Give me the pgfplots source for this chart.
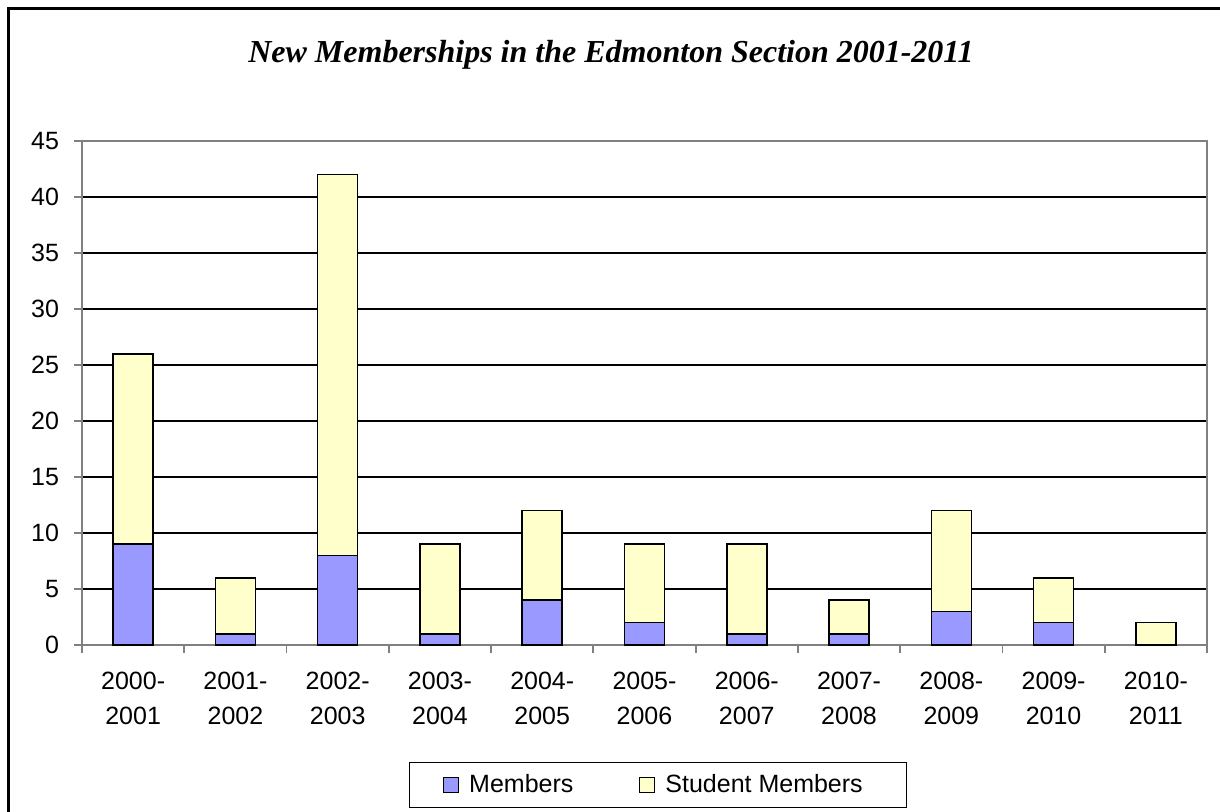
\documentclass[border=0pt]{standalone}
\usepackage{pgfplots}
\pgfplotsset{compat=1.18}
\usepackage{fontspec}
\setmainfont{Liberation Sans}
\newfontfamily\titlefont{Liberation Serif}
\definecolor{memb}{HTML}{9999FF}
\definecolor{stud}{HTML}{FFFFCC}
\definecolor{axgray}{HTML}{808080}
\begin{document}
\begin{tikzpicture}
\useasboundingbox (0,0) rectangle (610pt,-406pt);
\draw[line width=1.3pt] (4.3pt,-420pt) -- (4.3pt,-4.3pt) -- (620pt,-4.3pt);
\node[font=\titlefont\bfseries\itshape\fontsize{16}{19}\selectfont] at (305.5pt,-27.5pt) {New Memberships in the Edmonton Section 2001-2011};
\begin{axis}[
  at={(41pt,-322.5pt)}, anchor=south west,
  width=562.5pt, height=252pt, scale only axis,
  ybar stacked, bar width=20pt,
  xmin=-0.5, xmax=10.5, ymin=0, ymax=45,
  xtick={0,...,10},
  xticklabels={{2000-\\2001},{2001-\\2002},{2002-\\2003},{2003-\\2004},{2004-\\2005},{2005-\\2006},{2006-\\2007},{2007-\\2008},{2008-\\2009},{2009-\\2010},{2010-\\2011}},
  minor xtick={-0.5,0.5,...,10.5},
  ytick={0,5,...,45},
  tick pos=left,
  ymajorgrids, major grid style={black, line width=0.6pt},
  axis line style={axgray, line width=0.9pt},
  tick align=outside, major tick length=4pt, minor tick length=4pt,
  major x tick style={draw=none},
  minor x tick style={axgray, line width=0.9pt},
  ytick style={axgray, line width=0.9pt},
  /pgf/number format/assume math mode=true,
  ticklabel style={font=\fontsize{12.5}{17.5}\selectfont, text=black},
  xticklabel style={align=center, yshift=-6pt},
  yticklabel style={xshift=-4pt},
  legend style={at={(0.512,-0.232)}, anchor=north, legend columns=2, draw=black, line width=0.5pt,
    font=\fontsize{12.5}{15}\selectfont, inner xsep=17pt, inner ysep=4pt,
    nodes={inner xsep=5pt},
    /tikz/every even column/.append style={column sep=28pt}},
  legend image code/.code={\draw[#1, line width=0.5pt] (0pt,-3.75pt) rectangle (7.5pt,3.75pt);},
]
\addplot[fill=memb, draw=black, line width=0.75pt] coordinates {(0,9)(1,1)(2,8)(3,1)(4,4)(5,2)(6,1)(7,1)(8,3)(9,2)(10,0)};
\addplot[fill=stud, draw=black, line width=0.75pt] coordinates {(0,17)(1,5)(2,34)(3,8)(4,8)(5,7)(6,8)(7,3)(8,9)(9,4)(10,2)};
\legend{Members, Student Members}
\end{axis}
\end{tikzpicture}
\end{document}
